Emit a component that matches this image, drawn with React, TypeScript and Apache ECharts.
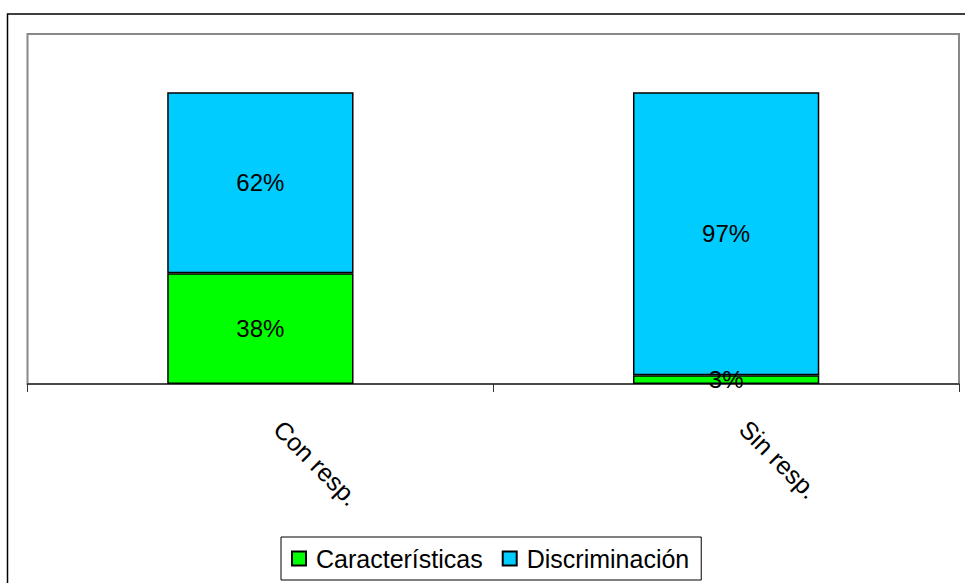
import React, { useEffect, useRef } from "react";
import * as echarts from "echarts";

const categories = ["Con resp.", "Sin resp."];
const caracteristicas = [38, 3];
const discriminacion = [62, 97];
const seriesNames = ["Características", "Discriminación"];

const FONT = "'Liberation Sans', Arial, Helvetica, sans-serif";

export default function App() {
  const ref = useRef<HTMLDivElement>(null);
  useEffect(() => {
    if (!ref.current) return;
    const chart = echarts.init(ref.current, null, { renderer: "svg" });
    const labelCfg = {
      show: true,
      position: "inside",
      formatter: "{c}%",
      color: "#000",
      fontSize: 24,
      fontFamily: FONT,
    };
    chart.setOption({
      animation: false,
      backgroundColor: "#fff",
      textStyle: { fontFamily: FONT },
      graphic: [
        {
          type: "rect",
          shape: { x: 7.5, y: 14, width: 1200, height: 1200 },
          style: { fill: "none", stroke: "#000", lineWidth: 1.5 },
          z: 100,
        },
      ],
      grid: {
        left: 27.5,
        top: 34,
        right: 6,
        bottom: 199,
        show: true,
        borderColor: "#888",
        borderWidth: 2,
        backgroundColor: "#fff",
      },
      legend: {
        left: 281,
        top: 537,
        orient: "horizontal",
        data: seriesNames,
        itemWidth: 14,
        itemHeight: 14,
        itemGap: 19,
        icon: "rect",
        backgroundColor: "#fff",
        borderColor: "#000",
        borderWidth: 1,
        borderRadius: 0,
        padding: [9, 12, 9, 10],
        textStyle: {
          color: "#000",
          fontSize: 25,
          fontFamily: FONT,
          padding: [0, 0, 0, 5],
        },
      },
      xAxis: {
        type: "category",
        data: categories,
        axisLine: { show: true, lineStyle: { color: "#333", width: 1.5 } },
        axisTick: { show: true, length: 8, lineStyle: { color: "#333", width: 1 } },
        axisLabel: {
          rotate: -45,
          margin: 23,
          color: "#000",
          fontSize: 25,
          fontFamily: FONT,
          padding: [0, 0, 0, 25],
          interval: 0,
        },
      },
      yAxis: {
        type: "value",
        min: 0,
        max: 120,
        show: false,
        splitLine: { show: false },
      },
      series: [
        {
          name: seriesNames[0],
          type: "bar",
          stack: "total",
          barWidth: "40%",
          data: caracteristicas,
          itemStyle: { color: "#00FF00", borderColor: "#000", borderWidth: 1.5 },
          label: labelCfg,
        },
        {
          name: seriesNames[1],
          type: "bar",
          stack: "total",
          barWidth: "40%",
          data: discriminacion,
          itemStyle: { color: "#00CCFF", borderColor: "#000", borderWidth: 1.5 },
          label: labelCfg,
        },
      ],
    });
    return () => chart.dispose();
  }, []);
  return (
    <div
      ref={ref}
      style={{ position: "absolute", left: 0, top: 0, width: 965, height: 583 }}
    />
  );
}
